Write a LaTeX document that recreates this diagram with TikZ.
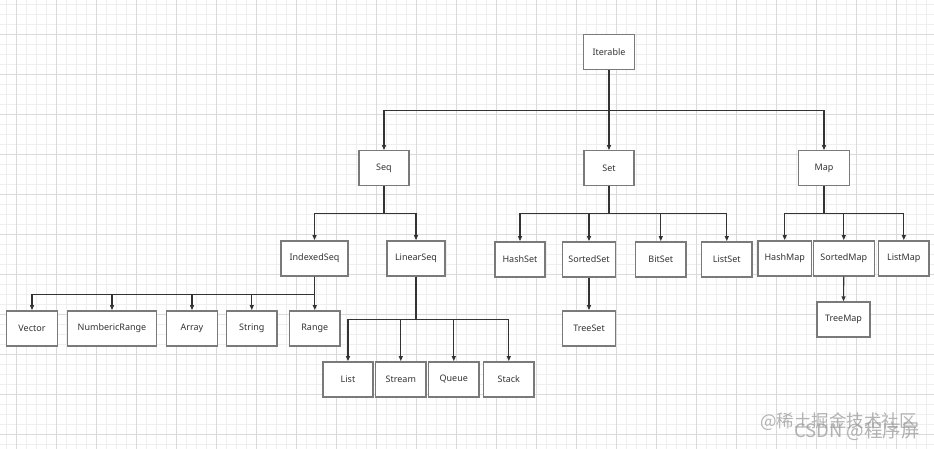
\documentclass[tikz,border=0pt]{standalone}
\usepackage{fontspec}
\setmainfont{Noto Sans}
\newfontfamily\cjk{Noto Sans CJK SC}
\usetikzlibrary{arrows.meta}
\definecolor{boxline}{HTML}{7A7A7A}
\definecolor{conn}{HTML}{333333}
\definecolor{gridminor}{HTML}{EEEEEE}
\definecolor{gridmajor}{HTML}{DADADA}
\definecolor{txt}{HTML}{333333}
\definecolor{wm}{HTML}{9A9A9A}
\tikzset{
  box/.style={draw=boxline, line width=1.4pt, fill=white, minimum height=35pt, inner sep=0pt, text=txt, font=\fontsize{9}{10}\selectfont},
  arr/.style={draw=conn, line width=1.1pt, -{Triangle[length=5pt,width=4pt]}},
  wmark/.style={text=wm, opacity=0.75, inner sep=0pt}
}
\begin{document}
\begin{tikzpicture}[x=1pt,y=-1pt]
\useasboundingbox (0,0) rectangle (934,449);
\fill[white] (0,0) rectangle (934,449);
% grid
\foreach \x in {6,16,...,934} \draw[gridminor, line width=0.6pt] (\x,0) -- (\x,449);
\foreach \y in {4,14,...,449} \draw[gridminor, line width=0.6pt] (0,\y) -- (934,\y);
\foreach \x in {16,56,...,934} \draw[gridmajor, line width=0.8pt] (\x,0) -- (\x,449);
\foreach \y in {34,74,...,449} \draw[gridmajor, line width=0.8pt] (0,\y) -- (934,\y);

% nodes
\node[box, minimum width=50.6pt] (iter) at (609,52.3) {Iterable};
\node[box, minimum width=50pt] (seq) at (384,168.3) {Seq};
\node[box, minimum width=50.3pt] (set) at (609,168.3) {Set};
\node[box, minimum width=50.6pt] (map) at (824,168.3) {Map};

\node[box, minimum width=67pt] (idx) at (314.5,258.3) {IndexedSeq};
\node[box, minimum width=58pt] (lin) at (416,258.3) {LinearSeq};

\node[box, minimum width=50.6pt] (vec) at (32,328.3) {Vector};
\node[box, minimum width=88.6pt] (nr) at (112,328.3) {NumbericRange};
\node[box, minimum width=50.6pt] (arrn) at (192,328.3) {Array};
\node[box, minimum width=50.3pt] (str) at (251.8,328.3) {String};
\node[box, minimum width=50.3pt] (rng) at (314.8,328.3) {Range};

\node[box, minimum width=50pt] (list) at (348,379.3) {List};
\node[box, minimum width=50.3pt] (strm) at (400.8,379.3) {Stream};
\node[box, minimum width=50.3pt] (que) at (453.8,379.3) {Queue};
\node[box, minimum width=50.3pt] (stk) at (508.8,379.3) {Stack};

\node[box, minimum width=50.3pt] (hset) at (520,259.3) {HashSet};
\node[box, minimum width=52.6pt] (sset) at (589,259.3) {SortedSet};
\node[box, minimum width=50.3pt] (bset) at (660.8,259.3) {BitSet};
\node[box, minimum width=50.3pt] (lset) at (726.8,259.3) {ListSet};
\node[box, minimum width=53pt] (tset) at (589,328.3) {TreeSet};

\node[box, minimum width=53.3pt] (hmap) at (784.7,258.3) {HashMap};
\node[box, minimum width=61pt] (smap) at (843.8,258.3) {SortedMap};
\node[box, minimum width=50.3pt] (lmap) at (903.8,258.3) {ListMap};
\node[box, minimum width=53.3pt] (tmap) at (843.5,319.5) {TreeMap};

% connectors
\foreach \c in {seq,set,map} \draw[arr] (iter.south) -- ++(0,40.3) -| (\c.north);
\foreach \c in {idx,lin} \draw[arr] (seq.south) -- ++(0,26.7) -| (\c.north);
\foreach \c in {vec,nr,arrn,str,rng} \draw[arr] (idx.south) -- ++(0,18) -| (\c.north);
\foreach \c in {list,strm,que,stk} \draw[arr] (lin.south) -- ++(0,43.3) -| (\c.north);
\foreach \c in {hset,sset,bset,lset} \draw[arr] (set.south) -- ++(0,26.7) -| (\c.north);
\foreach \c in {hmap,smap,lmap} \draw[arr] (map.south) -- ++(0,26.7) -| (\c.north);
\draw[arr] (sset.south) -- (tset.north);
\draw[arr] (smap.south) -- (tmap.north);

% watermark
\node[wmark, anchor=west, font=\cjk\fontsize{17.5}{19}\selectfont] (wm1) at (760,422) {@稀土掘金技术社区};
\node[wmark, anchor=east, font=\cjk\fontsize{18.5}{20}\selectfont] (wm2) at (920,431) {CSDN @程序屏};
\end{tikzpicture}
\end{document}
